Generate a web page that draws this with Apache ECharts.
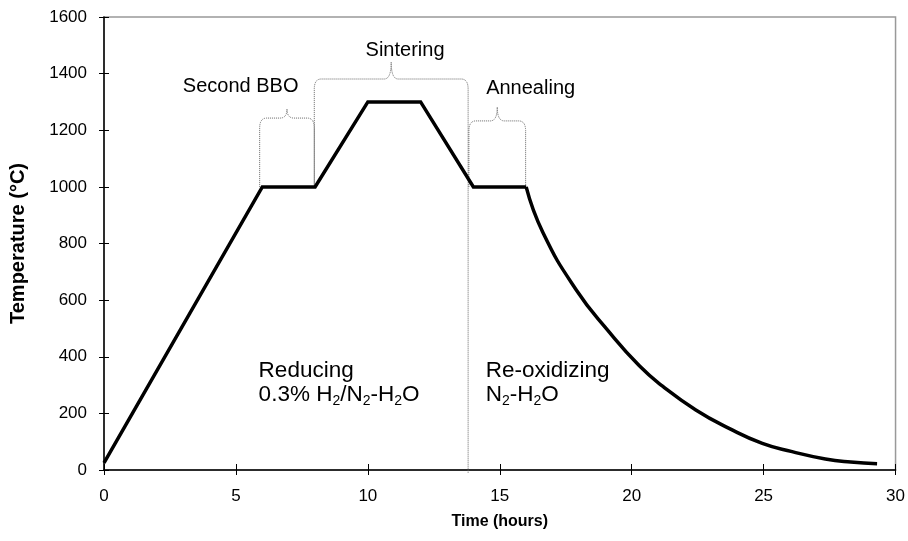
<!DOCTYPE html>
<html>
<head>
<meta charset="utf-8">
<script src="https://cdn.jsdelivr.net/npm/echarts@6/dist/echarts.min.js"></script>
<style>html,body{margin:0;padding:0;background:#fff}#c{width:908px;height:541px}</style>
</head>
<body>
<div id="c"></div>
<script>
// ---- data ----
const rampTime = [0, 6, 8, 10, 12, 14, 16];
const rampTemp = [25, 1000, 1000, 1300, 1300, 1000, 1000];
const coolTime = [16, 16.63, 17.9, 19.15, 20.29, 21.17, 22.43, 23.69, 24.95, 26.08, 27.34, 28.3, 29.3];
const coolTemp = [1000, 840, 636, 487, 368, 296, 212, 147, 94, 65, 39, 28, 22];
const xTicks = [0, 5, 10, 15, 20, 25, 30];
const yTicks = [0, 200, 400, 600, 800, 1000, 1200, 1400, 1600];
// brackets: [startTime, endTime, topTemp, tipTemp, leftBottomTemp, rightBottomTemp]
const brackets = [
  [5.9, 7.97, 1243, 1275, 1000, 1000],
  [7.97, 13.8, 1381, 1441, 1000, -12],
  [13.83, 15.98, 1233, 1282, 1000, 1000]
];
// labels: [time, temp, text, align, size]
const labels = [
  [5.18, 1353, 'Second BBO', 'center', 'small'],
  [11.41, 1483, 'Sintering', 'center', 'small'],
  [16.17, 1349, 'Annealing', 'center', 'small'],
  [5.86, 352, 'Reducing', 'left', 'big'],
  [5.86, 264, '0.3% H{s|2}/N{s|2}-H{s|2}O', 'left', 'big'],
  [14.47, 352, 'Re-oxidizing', 'left', 'big'],
  [14.47, 264, 'N{s|2}-H{s|2}O', 'left', 'big']
];

const FONT = 'Liberation Sans, Arial, sans-serif';
const chart = echarts.init(document.getElementById('c'), null, {renderer: 'canvas'});

function pairs(xs, ys) { return xs.map((x, i) => [x, ys[i]]); }

const option = {
  animation: false,
  backgroundColor: '#fff',
  grid: {left: 103, right: 11, top: 17, bottom: 71, show: true, borderColor: '#999', borderWidth: 1.5},
  xAxis: [{
    type: 'value', min: 0, max: 30, interval: 5, position: 'bottom',
    name: 'Time (hours)', nameLocation: 'middle', nameGap: 44,
    nameTextStyle: {fontFamily: FONT, fontWeight: 'bold', fontSize: 16, color: '#000'},
    axisLine: {show: true, lineStyle: {color: '#000', width: 1.5}},
    axisTick: {show: true, length: 5, lineStyle: {color: '#000', width: 1}},
    axisLabel: {fontFamily: FONT, fontSize: 17, color: '#000', margin: 18,
      formatter: v => xTicks.includes(v) ? String(v) : ''},
    splitLine: {show: false}
  }, {
    type: 'value', min: 0, max: 30, interval: 5, position: 'bottom',
    axisLine: {show: false}, axisLabel: {show: false}, splitLine: {show: false},
    axisTick: {show: true, inside: true, length: 6, lineStyle: {color: '#000', width: 1}}
  }],
  yAxis: [{
    type: 'value', min: 0, max: 1600, interval: 200, position: 'left',
    name: 'Temperature (°C)', nameLocation: 'middle', nameGap: 76, nameRotate: 90,
    nameTextStyle: {fontFamily: FONT, fontWeight: 'bold', fontSize: 20, color: '#000'},
    axisLine: {show: true, lineStyle: {color: '#000', width: 1.5}},
    axisTick: {show: true, length: 5, lineStyle: {color: '#000', width: 1}},
    axisLabel: {fontFamily: FONT, fontSize: 17, color: '#000', margin: 17,
      formatter: v => yTicks.includes(v) ? String(v) : ''},
    splitLine: {show: false}
  }, {
    type: 'value', min: 0, max: 1600, interval: 200, position: 'left',
    axisLine: {show: false}, axisLabel: {show: false}, splitLine: {show: false},
    axisTick: {show: true, inside: true, length: 5, lineStyle: {color: '#000', width: 1}}
  }],
  series: [
    {
      type: 'custom', xAxisIndex: 0, yAxisIndex: 0, silent: true, z: 1,
      data: brackets,
      renderItem: function (params, api) {
        const p1 = api.coord([api.value(0), api.value(2)]);
        const p2 = api.coord([api.value(1), api.value(2)]);
        const tip = api.coord([(api.value(0) + api.value(1)) / 2, api.value(3)]);
        const bl = api.coord([api.value(0), api.value(4)]);
        const br = api.coord([api.value(1), api.value(5)]);
        const x1 = p1[0], x2 = p2[0], yT = p1[1], xm = tip[0], yP = tip[1];
        const rx = 7, ry = 10, r2 = 7;
        const d = [
          'M', x1, bl[1], 'L', x1, yT + ry, 'Q', x1, yT, x1 + rx, yT,
          'L', xm - r2, yT, 'Q', xm, yT, xm, yP, 'Q', xm, yT, xm + r2, yT,
          'L', x2 - rx, yT, 'Q', x2, yT, x2, yT + ry, 'L', x2, br[1]
        ].join(' ');
        return {
          type: 'path', shape: {pathData: d},
          style: {fill: null, stroke: '#666', lineWidth: 1, lineDash: [1, 1]}
        };
      }
    },
    {
      type: 'line', xAxisIndex: 0, yAxisIndex: 0, data: pairs(rampTime, rampTemp),
      showSymbol: false, symbol: 'none', smooth: false, z: 3,
      lineStyle: {color: '#000', width: 3.5, join: 'miter'}
    },
    {
      type: 'line', xAxisIndex: 0, yAxisIndex: 0, data: pairs(coolTime, coolTemp),
      showSymbol: false, symbol: 'none', smooth: 0.5, z: 3,
      lineStyle: {color: '#000', width: 3.5}
    },
    {
      type: 'custom', xAxisIndex: 0, yAxisIndex: 0, silent: true, z: 4,
      data: labels.map(l => [l[0], l[1]]),
      renderItem: function (params, api) {
        const l = labels[params.dataIndex];
        const p = api.coord([api.value(0), api.value(1)]);
        const big = l[4] === 'big';
        return {
          type: 'text', x: p[0], y: p[1],
          style: {
            text: l[2], fill: '#000', align: l[3], verticalAlign: 'middle',
            fontFamily: FONT, fontSize: big ? 22.5 : 20,
            rich: {s: {fontSize: 14, verticalAlign: 'bottom', padding: [11, 0, 0, 0], fontFamily: FONT, fill: '#000'}}
          }
        };
      }
    }
  ]
};
chart.setOption(option);
</script>
</body>
</html>
